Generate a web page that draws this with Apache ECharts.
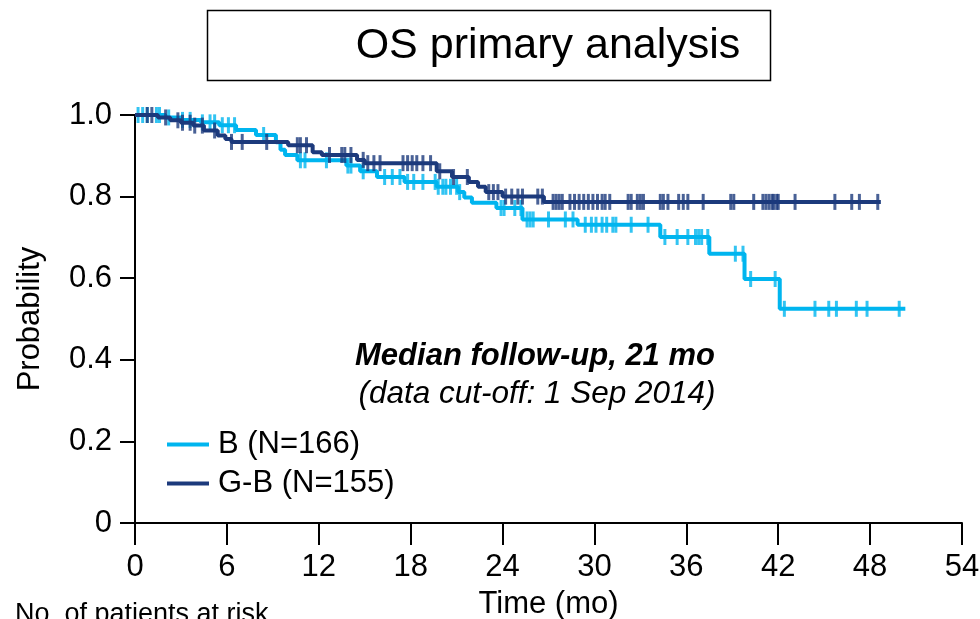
<!DOCTYPE html>
<html>
<head>
<meta charset="utf-8">
<title>OS primary analysis</title>
<script src="https://cdn.jsdelivr.net/npm/echarts@6/dist/echarts.min.js"></script>
<style>
  html, body { margin: 0; padding: 0; background: #fff; }
  #chart { width: 980px; height: 619px; }
</style>
</head>
<body>
<div id="chart"></div>
<script>
// Kaplan-Meier step points: [month, survival probability after the event]
const stepsB = [
  [0, 1.0], [2.0, 0.994], [3.0, 0.988], [4.3, 0.982], [5.5, 0.975], [6.6, 0.963],
  [7.9, 0.951], [9.2, 0.933], [9.5, 0.915], [9.8, 0.902], [10.6, 0.889],
  [13.8, 0.876], [14.7, 0.862], [15.8, 0.848], [17.6, 0.836], [19.7, 0.824],
  [21.1, 0.811], [21.5, 0.798], [22.0, 0.785], [23.6, 0.772], [25.3, 0.744],
  [28.9, 0.731], [34.3, 0.701], [37.5, 0.660], [39.8, 0.598], [42.1, 0.525]
];
const endB = 50.3;

const stepsGB = [
  [0, 1.0], [1.5, 0.994], [2.3, 0.987], [3.0, 0.981], [3.8, 0.974], [4.5, 0.962],
  [5.4, 0.950], [5.9, 0.941], [6.3, 0.934], [10.0, 0.926], [11.6, 0.909],
  [12.2, 0.902], [14.5, 0.890], [15.0, 0.882], [19.7, 0.862], [20.7, 0.848],
  [21.8, 0.836], [22.4, 0.824], [22.9, 0.811], [24.0, 0.800], [26.7, 0.787]
];
const endGB = 48.7;

// Censoring times (months)
const censorB = [
  0.2, 0.5, 0.8, 1.4, 1.6, 2.2, 3.1, 3.6, 4.4, 4.9, 5.2, 5.7, 6.1, 6.5, 8.4,
  10.8, 11.1, 12.5, 13.9, 14.1, 14.9, 16.3, 16.8, 17.3, 17.8, 18.2, 18.8,
  19.6, 19.8, 20.1, 20.3, 20.6, 21.0, 21.2, 23.9, 24.1, 24.8, 25.2, 25.6,
  25.8, 26.0, 27.0, 28.1, 28.6, 29.4, 29.8, 30.1, 30.5, 30.8, 31.2, 31.4,
  32.4, 33.5, 34.6, 35.4, 36.1, 36.6, 36.8, 37.0, 37.4, 39.2, 39.7, 40.2,
  41.8, 42.4, 44.4, 45.3, 45.8, 47.1, 47.8, 49.9
];
const censorGB = [
  0.8, 1.1, 2.0, 2.8, 3.1, 3.6, 3.9, 4.4, 5.2, 6.3, 7.0, 8.6, 10.6, 10.8,
  11.2, 12.7, 13.5, 13.7, 14.1, 14.9, 15.2, 15.6, 16.0, 17.5, 17.8, 18.1,
  18.4, 18.8, 19.3, 19.9, 20.8, 21.7, 23.1, 23.4, 23.7, 24.2, 24.6, 25.0,
  25.3, 26.3, 26.6, 27.3, 27.5, 27.7, 27.9, 28.4, 28.7, 29.0, 29.3, 29.6,
  29.9, 30.2, 30.5, 30.7, 31.0, 32.2, 32.4, 32.8, 33.0, 33.2, 34.3, 34.5,
  34.8, 35.5, 35.8, 36.1, 37.1, 38.9, 39.1, 40.4, 41.0, 41.2, 41.4, 41.6,
  41.7, 41.9, 42.0, 43.1, 45.7, 46.8, 47.3, 48.5
];

const xTicks = [0, 6, 12, 18, 24, 30, 36, 42, 48, 54];
const yTicks = [0, 0.2, 0.4, 0.6, 0.8, 1.0];

const groupNames = ['B (N=166)', 'G-B (N=155)'];
const colorB = '#00b5ef';
const colorGB = '#1c3a7c';
const FONT = 'Liberation Sans, Arial, sans-serif';

function survivalAt(steps, t) {
  let s = steps[0][1];
  for (const [time, val] of steps) {
    if (time <= t) s = val; else break;
  }
  return s;
}
function curve(steps, end) {
  const pts = steps.map(p => [p[0], p[1]]);
  pts.push([end, steps[steps.length - 1][1]]);
  return pts;
}
function marks(steps, times) {
  return times.map(t => [t, survivalAt(steps, t)]);
}

const chart = echarts.init(document.getElementById('chart'), null, { renderer: 'canvas' });

const option = {
  backgroundColor: '#ffffff',
  animation: false,
  grid: {
    left: 135, right: 18, top: 115, bottom: 96,
    containLabel: false,
    outerBoundsMode: 'none'
  },
  xAxis: {
    type: 'value',
    min: xTicks[0],
    max: xTicks[xTicks.length - 1],
    interval: 6,
    name: 'Time (mo)',
    nameLocation: 'middle',
    nameGap: 66,
    nameTextStyle: { fontSize: 31, color: '#000', fontFamily: FONT },
    axisLine: { show: true, lineStyle: { color: '#000', width: 2 } },
    axisTick: { show: true, length: 22, lineStyle: { color: '#000', width: 2 } },
    axisLabel: { fontSize: 31, color: '#000', fontFamily: FONT, margin: 29 },
    splitLine: { show: false }
  },
  yAxis: {
    type: 'value',
    min: yTicks[0],
    max: yTicks[yTicks.length - 1],
    interval: 0.2,
    name: 'Probability',
    nameLocation: 'middle',
    nameGap: 89,
    nameTextStyle: { fontSize: 31, color: '#000', fontFamily: FONT },
    axisLine: { show: true, lineStyle: { color: '#000', width: 2 } },
    axisTick: { show: true, length: 15, lineStyle: { color: '#000', width: 2 } },
    axisLabel: {
      fontSize: 31, color: '#000', fontFamily: FONT, margin: 23,
      formatter: v => (v === 0 ? '0' : v.toFixed(1))
    },
    splitLine: { show: false }
  },
  legend: {
    orient: 'vertical',
    left: 162,
    top: 424,
    itemWidth: 42,
    itemHeight: 4,
    itemGap: 8,
    selectedMode: false,
    textStyle: { fontSize: 31, color: '#000', fontFamily: FONT, lineHeight: 31, padding: [0, 0, 0, 4] },
    data: [
      { name: groupNames[0], icon: 'rect', itemStyle: { color: colorB } },
      { name: groupNames[1], icon: 'rect', itemStyle: { color: colorGB } }
    ]
  },
  graphic: [
    {
      type: 'rect',
      shape: { x: 207.5, y: 10.5, width: 563, height: 70 },
      style: { fill: 'none', stroke: '#000', lineWidth: 1.5 }
    },
    {
      type: 'text',
      x: 548, y: 46,
      style: {
        text: 'OS primary analysis', fontSize: 43, fontFamily: FONT, fill: '#000',
        align: 'center', verticalAlign: 'middle'
      }
    },
    {
      type: 'text',
      x: 535, y: 356,
      style: {
        text: 'Median follow-up, 21 mo', fontSize: 31, fontFamily: FONT,
        fontWeight: 'bold', fontStyle: 'italic', fill: '#000',
        align: 'center', verticalAlign: 'middle'
      }
    },
    {
      type: 'text',
      x: 537, y: 394,
      style: {
        text: '(data cut-off: 1 Sep 2014)', fontSize: 31.5, fontFamily: FONT,
        fontStyle: 'italic', fill: '#000',
        align: 'center', verticalAlign: 'middle'
      }
    },
    {
      type: 'text',
      x: 15, y: 601,
      style: {
        text: 'No. of patients at risk', fontSize: 27, fontFamily: FONT, fill: '#000',
        align: 'left', verticalAlign: 'top'
      }
    }
  ],
  series: [
    {
      name: groupNames[0],
      type: 'line',
      step: 'end',
      data: curve(stepsB, endB),
      symbol: 'none',
      clip: false,
      lineStyle: { color: colorB, width: 4 },
      itemStyle: { color: colorB },
      z: 3
    },
    {
      name: groupNames[1],
      type: 'line',
      step: 'end',
      data: curve(stepsGB, endGB),
      symbol: 'none',
      clip: false,
      lineStyle: { color: colorGB, width: 4 },
      itemStyle: { color: colorGB },
      z: 4
    },
    {
      name: groupNames[0],
      type: 'scatter',
      data: marks(stepsB, censorB),
      symbol: 'rect',
      symbolSize: [3, 16],
      clip: false,
      itemStyle: { color: colorB },
      z: 3
    },
    {
      name: groupNames[1],
      type: 'scatter',
      data: marks(stepsGB, censorGB),
      symbol: 'rect',
      symbolSize: [3, 16],
      clip: false,
      itemStyle: { color: colorGB },
      z: 4
    }
  ]
};

chart.setOption(option);
</script>
</body>
</html>
